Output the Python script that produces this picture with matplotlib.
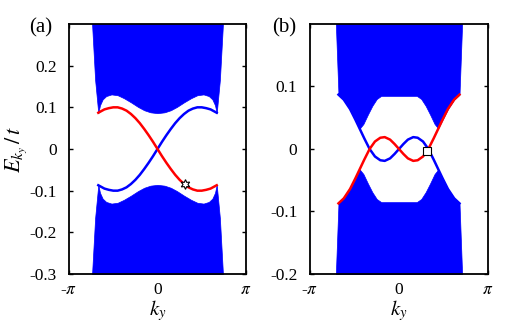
import numpy as np
import matplotlib
matplotlib.use("Agg")
import matplotlib.pyplot as plt

BLUE = '#0000ff'
RED = '#ff0000'

plt.rcParams['font.family'] = ['Liberation Serif', 'DejaVu Serif']
plt.rcParams['mathtext.fontset'] = 'stix'
plt.rcParams['font.size'] = 12

# ---- panel (a): edge states, k in units of pi ----
k_edge_a = [-0.669, -0.60, -0.55, -0.50, -0.45, -0.40, -0.35, -0.30, -0.25, -0.20,
            -0.15, -0.10, -0.05, 0.0, 0.05, 0.10, 0.15, 0.20, 0.25, 0.30,
            0.35, 0.40, 0.45, 0.50, 0.55, 0.60, 0.669]
red_a = [0.087, 0.095, 0.098, 0.100, 0.100, 0.097, 0.092, 0.084, 0.074, 0.062,
         0.048, 0.033, 0.017, 0.0, -0.017, -0.033, -0.048, -0.062, -0.074, -0.084,
         -0.092, -0.097, -0.100, -0.100, -0.098, -0.095, -0.087]
blue_a = [-0.087, -0.095, -0.098, -0.100, -0.100, -0.097, -0.092, -0.084, -0.074, -0.062,
          -0.048, -0.033, -0.017, 0.0, 0.017, 0.033, 0.048, 0.062, 0.074, 0.084,
          0.092, 0.097, 0.100, 0.100, 0.098, 0.095, 0.087]

# bulk continuum boundary (a)
k_bulk_a = [-0.742, -0.705, -0.669, -0.65, -0.62, -0.58, -0.52, -0.45, -0.38, -0.30,
            -0.22, -0.15, -0.08, 0.0, 0.08, 0.15, 0.22, 0.30, 0.38, 0.45,
            0.52, 0.58, 0.62, 0.65, 0.669, 0.705, 0.742]
upper_a = [0.31, 0.166, 0.086, 0.105, 0.119, 0.127, 0.131, 0.129, 0.122, 0.112,
           0.101, 0.093, 0.088, 0.086, 0.088, 0.093, 0.101, 0.112, 0.122, 0.129,
           0.131, 0.127, 0.119, 0.105, 0.086, 0.166, 0.31]
lower_a = [-0.31, -0.166, -0.086, -0.105, -0.119, -0.127, -0.131, -0.129, -0.122, -0.112,
           -0.101, -0.093, -0.088, -0.086, -0.088, -0.093, -0.101, -0.112, -0.122, -0.129,
           -0.131, -0.127, -0.119, -0.105, -0.086, -0.166, -0.31]
star_a = (0.31, -0.085)

# ---- panel (b) ----
k_edge_b = [-0.68, -0.62, -0.55, -0.49, -0.44, -0.39, -0.33, -0.27, -0.21, -0.16,
            -0.10, -0.05, 0.0, 0.05, 0.10, 0.16, 0.21, 0.27, 0.33, 0.39,
            0.44, 0.49, 0.55, 0.62, 0.68]
red_b = [-0.087, -0.079, -0.064, -0.047, -0.032, -0.017, 0.000, 0.012, 0.018, 0.019,
         0.015, 0.008, 0.0, -0.008, -0.015, -0.019, -0.018, -0.012, 0.000, 0.017,
         0.032, 0.047, 0.064, 0.079, 0.087]
blue_b = [0.087, 0.079, 0.064, 0.047, 0.032, 0.017, 0.000, -0.012, -0.018, -0.019,
          -0.015, -0.008, 0.0, 0.008, 0.015, 0.019, 0.018, 0.012, 0.000, -0.017,
          -0.032, -0.047, -0.064, -0.079, -0.087]

k_bulk_b = [-0.712, -0.68, -0.62, -0.55, -0.49, -0.44, -0.40, -0.35, -0.30, -0.25,
            -0.20, 0.0, 0.20, 0.25, 0.30, 0.35, 0.40, 0.44, 0.49, 0.55,
            0.62, 0.68, 0.712]
upper_b = [0.21, 0.087, 0.079, 0.064, 0.047, 0.033, 0.040, 0.055, 0.069, 0.080,
           0.085, 0.085, 0.085, 0.080, 0.069, 0.055, 0.040, 0.033, 0.047, 0.064,
           0.079, 0.087, 0.21]
lower_b = [-0.21, -0.087, -0.079, -0.064, -0.047, -0.033, -0.040, -0.055, -0.069, -0.080,
           -0.085, -0.085, -0.085, -0.080, -0.069, -0.055, -0.040, -0.033, -0.047, -0.064,
           -0.079, -0.087, -0.21]
square_b = (0.31, -0.003)

yticks_a = [-0.3, -0.2, -0.1, 0, 0.1, 0.2]
yticklabels_a = ['-0.3', '-0.2', '-0.1', '0', '0.1', '0.2']
yticks_b = [-0.2, -0.1, 0, 0.1]
yticklabels_b = ['-0.2', '-0.1', '0', '0.1']


def style(ax, ylim, yticks, ylabels):
    ax.set_xlim(-np.pi, np.pi)
    ax.set_ylim(*ylim)
    ax.set_xticks([-np.pi, 0, np.pi])
    ax.set_xticklabels([r'-$\pi$', '0', r'$\pi$'])
    ax.set_yticks(yticks)
    ax.set_yticklabels(ylabels)
    ax.tick_params(direction='in', top=True, right=True, length=3, width=1,
                   labelsize=12.5)
    ax.tick_params(axis='y', pad=9)
    ax.tick_params(axis='x', pad=6)
    ax.set_axisbelow(True)
    for s in ax.spines.values():
        s.set_linewidth(1.3)
    ax.set_xlabel(r'$k_y$', fontsize=15, labelpad=0)


fig = plt.figure(figsize=(5.28, 3.3), dpi=100)
ax_a = fig.add_axes([0.1307, 0.1697, 0.3352, 0.7576])
ax_b = fig.add_axes([0.5871, 0.1697, 0.3371, 0.7576])

# (a)
kb = np.array(k_bulk_a) * np.pi
ax_a.fill_between(kb, upper_a, 0.31, color=BLUE, lw=0.5, zorder=1)
ax_a.fill_between(kb, -0.31, lower_a, color=BLUE, lw=0.5, zorder=1)
ke = np.array(k_edge_a) * np.pi
ax_a.plot(ke, blue_a, color=BLUE, lw=1.8, zorder=3)
ax_a.plot(ke, red_a, color=RED, lw=1.8, zorder=3)
ax_a.plot(star_a[0] * np.pi, star_a[1], marker=(6, 1, 0), ms=7, mfc='white',
          mec='black', mew=0.8, zorder=5)
style(ax_a, (-0.3, 0.3), yticks_a, yticklabels_a)
ax_a.set_ylabel(r'$E_{k_y}\,/\,t$', fontsize=16, labelpad=0)

# (b)
kb = np.array(k_bulk_b) * np.pi
ax_b.fill_between(kb, upper_b, 0.21, color=BLUE, lw=0.5, zorder=1)
ax_b.fill_between(kb, -0.21, lower_b, color=BLUE, lw=0.5, zorder=1)
ke = np.array(k_edge_b) * np.pi
ax_b.plot(ke, blue_b, color=BLUE, lw=1.8, zorder=3)
ax_b.plot(ke, red_b, color=RED, lw=1.8, zorder=3)
ax_b.plot(square_b[0] * np.pi, square_b[1], marker='s', ms=6, mfc='white',
          mec='black', mew=0.8, zorder=5)
style(ax_b, (-0.2, 0.2), yticks_b, yticklabels_b)

fig.text(0.055, 0.915, '(a)', fontsize=15, ha='left', va='center')
fig.text(0.515, 0.915, '(b)', fontsize=15, ha='left', va='center')

fig.savefig('out.png', dpi=100)
